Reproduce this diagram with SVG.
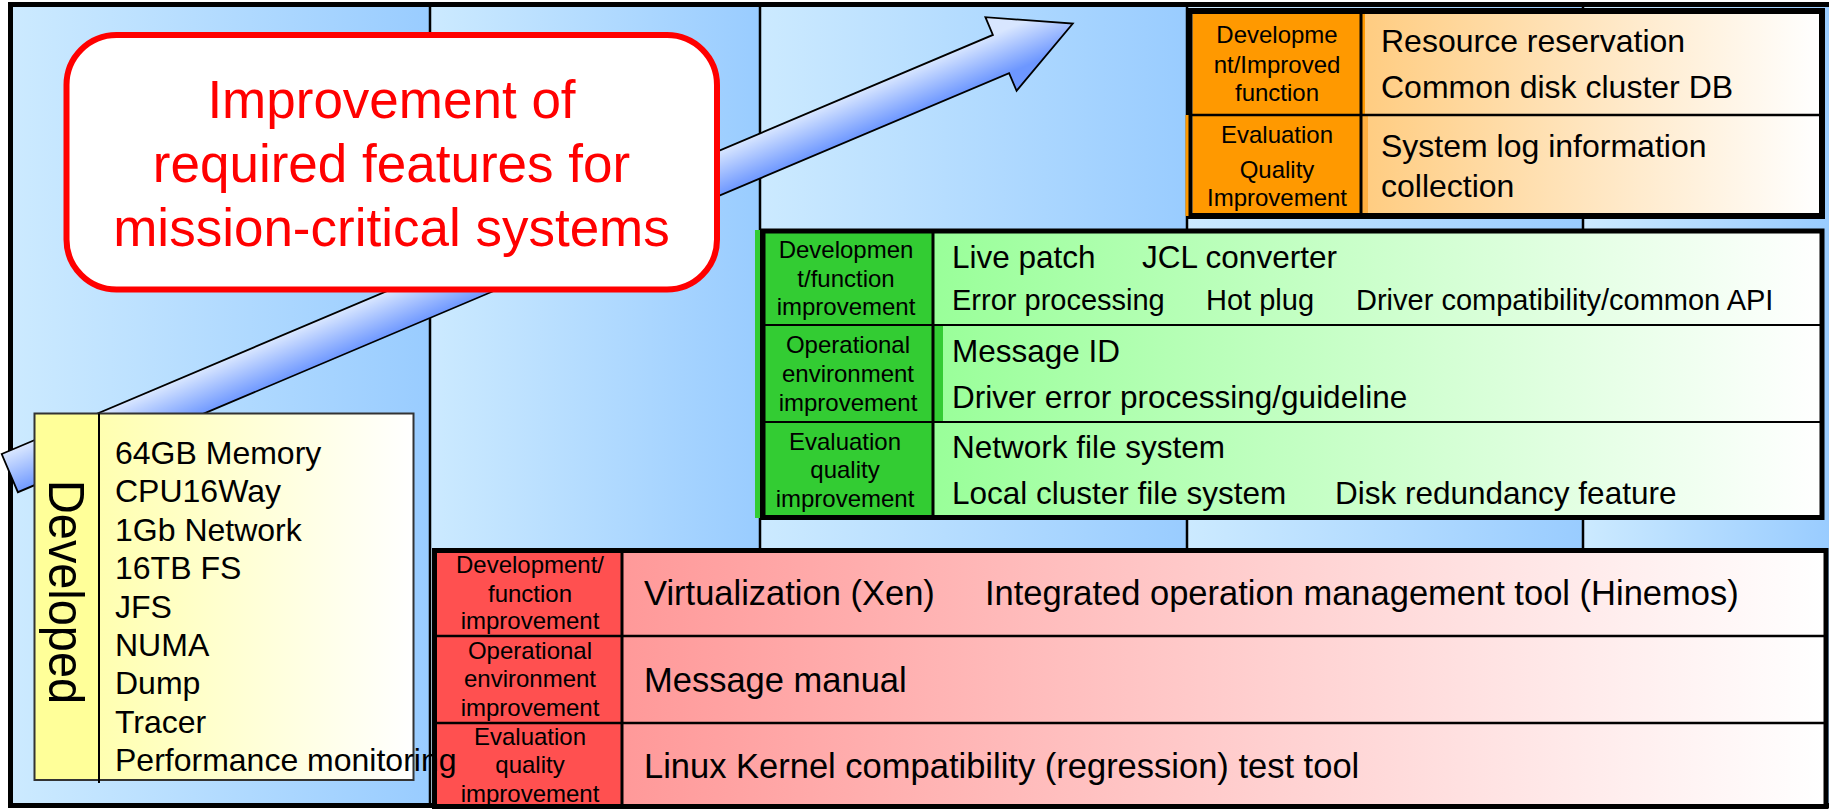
<svg xmlns="http://www.w3.org/2000/svg" width="1829" height="810" viewBox="0 0 1829 810">
<defs>
<style>
.t{font-family:"Liberation Sans",Arial,Helvetica,sans-serif;fill:#000;}
.lb{font-size:24px;text-anchor:middle;}
.or{font-size:32px;}
.gr{font-size:31.5px;}
.gs{font-size:29px;}
.rd{font-size:34.5px;}
.ls{font-size:32px;}
.co{font-size:53px;fill:#ff0000;text-anchor:middle;}
.ln{stroke:#000;fill:none;}
.col{fill:url(#gBlue);}
</style>
<linearGradient id="gBlue" x1="0" y1="0" x2="1" y2="0"><stop offset="0" stop-color="#cceaff"/><stop offset="1" stop-color="#99ccff"/></linearGradient>
<linearGradient id="gArrow" gradientUnits="userSpaceOnUse" x1="992.9" y1="34.9" x2="1009.1" y2="73.1"><stop offset="0" stop-color="#d8e6ff"/><stop offset="1" stop-color="#6d97ff"/></linearGradient>
<linearGradient id="gOrange" x1="0" y1="0" x2="1" y2="0"><stop offset="0" stop-color="#ffcc80"/><stop offset="1" stop-color="#ffffff"/></linearGradient>
<linearGradient id="gGreen" x1="0" y1="0" x2="1" y2="0"><stop offset="0" stop-color="#99ff99"/><stop offset="1" stop-color="#ffffff"/></linearGradient>
<linearGradient id="gRed" x1="0" y1="0" x2="1" y2="0"><stop offset="0" stop-color="#ff9999"/><stop offset="1" stop-color="#ffffff"/></linearGradient>
<linearGradient id="gYel" x1="0" y1="0" x2="1" y2="0"><stop offset="0" stop-color="#ffffb0"/><stop offset="1" stop-color="#ffffff"/></linearGradient>
</defs>

<g id="background">
<rect class="col" x="13" y="7" width="417" height="798"/>
<rect class="col" x="430" y="7" width="330" height="798"/>
<rect class="col" x="760" y="7" width="427" height="798"/>
<rect class="col" x="1187" y="7" width="396" height="798"/>
<rect class="col" x="1583" y="7" width="246" height="798"/>
<line class="ln" x1="430" y1="7" x2="430" y2="805" stroke-width="2.5"/>
<line class="ln" x1="760" y1="7" x2="760" y2="805" stroke-width="2.5"/>
<line class="ln" x1="1187" y1="7" x2="1187" y2="805" stroke-width="2.5"/>
<line class="ln" x1="1583" y1="7" x2="1583" y2="805" stroke-width="2.5"/>
<path class="ln" d="M10.5 808 V4.5 H1829 M10.5 805.5 H1829" stroke-width="5"/>
</g>

<g id="connectors">
<polygon points="1.7,454 992.9,34.9 985.4,17.2 1072.8,23.6 1016.6,90.8 1009.1,73.1 17.9,492.2" fill="url(#gArrow)" stroke="#000" stroke-width="1.8" stroke-linejoin="miter"/>
</g>

<g id="callout">
<rect x="66.5" y="35" width="650.5" height="254.5" rx="50" ry="50" fill="#ffffff" stroke="#ff0000" stroke-width="6"/>
<text class="t co" x="391.5" y="118">Improvement of</text>
<text class="t co" x="391.5" y="182">required features for</text>
<text class="t co" x="391.5" y="246">mission-critical systems</text>
</g>

<g id="orange-table">
<rect x="1192.5" y="14" width="168.5" height="199" fill="#ff9900"/>
<rect x="1361" y="14" width="458" height="199" fill="url(#gOrange)"/>
<rect x="1361" y="14" width="4" height="101" fill="#ff9900"/>
<rect x="1361" y="116" width="7" height="97" fill="#ffb040"/>
<line class="ln" x1="1189.5" y1="115" x2="1822" y2="115" stroke-width="2.5"/>
<line class="ln" x1="1361" y1="11" x2="1361" y2="216" stroke-width="3"/>
<rect x="1189.5" y="11" width="632.5" height="205" fill="none" stroke="#000" stroke-width="6"/>
<rect x="1185.5" y="115" width="3" height="101" fill="#ff9900"/>
<text class="t lb" x="1277" y="43">Developme</text>
<text class="t lb" x="1277" y="73">nt/Improved</text>
<text class="t lb" x="1277" y="101">function</text>
<text class="t lb" x="1277" y="143">Evaluation</text>
<text class="t lb" x="1277" y="178">Quality</text>
<text class="t lb" x="1277" y="206">Improvement</text>
<text class="t or" x="1381" y="52">Resource reservation</text>
<text class="t or" x="1381" y="98">Common disk cluster DB</text>
<text class="t or" x="1381" y="157">System log information</text>
<text class="t or" x="1381" y="197">collection</text>
</g>

<g id="green-table">
<rect x="765" y="233" width="168" height="282" fill="#33cc33"/>
<rect x="933" y="233" width="887" height="282" fill="url(#gGreen)"/>
<rect x="933" y="326" width="10" height="95" fill="#33cc33"/>
<line class="ln" x1="763" y1="325" x2="1822" y2="325" stroke-width="2"/>
<line class="ln" x1="763" y1="422" x2="1822" y2="422" stroke-width="2"/>
<line class="ln" x1="933" y1="231" x2="933" y2="517" stroke-width="3"/>
<rect x="763" y="231" width="1059" height="286.5" fill="none" stroke="#000" stroke-width="5"/>
<rect x="755" y="230" width="5" height="288" fill="#33cc33"/>
<text class="t lb" x="846" y="258">Developmen</text>
<text class="t lb" x="846" y="287">t/function</text>
<text class="t lb" x="846" y="315">improvement</text>
<text class="t lb" x="848" y="353">Operational</text>
<text class="t lb" x="848" y="382">environment</text>
<text class="t lb" x="848" y="411">improvement</text>
<text class="t lb" x="845" y="450">Evaluation</text>
<text class="t lb" x="845" y="478">quality</text>
<text class="t lb" x="845" y="507">improvement</text>
<text class="t gr" x="952" y="268">Live patch</text>
<text class="t gr" x="1142" y="268">JCL converter</text>
<text class="t gs" x="952" y="310">Error processing</text>
<text class="t gs" x="1206" y="310">Hot plug</text>
<text class="t gs" x="1356" y="310">Driver compatibility/common API</text>
<text class="t gr" x="952" y="362">Message ID</text>
<text class="t gr" x="952" y="408">Driver error processing/guideline</text>
<text class="t gr" x="952" y="458">Network file system</text>
<text class="t gr" x="952" y="504">Local cluster file system</text>
<text class="t gr" x="1335" y="504">Disk redundancy feature</text>
</g>

<g id="red-table">
<rect x="437" y="553" width="185" height="252" fill="#ff5050"/>
<rect x="622" y="553" width="1202" height="252" fill="url(#gRed)"/>
<line class="ln" x1="434.5" y1="636" x2="1826" y2="636" stroke-width="2.5"/>
<line class="ln" x1="434.5" y1="723" x2="1826" y2="723" stroke-width="2.5"/>
<line class="ln" x1="622" y1="550.5" x2="622" y2="806" stroke-width="3"/>
<rect x="434.5" y="550.5" width="1391.5" height="256" fill="none" stroke="#000" stroke-width="5"/>
<text class="t lb" x="530" y="573">Development/</text>
<text class="t lb" x="530" y="602">function</text>
<text class="t lb" x="530" y="629">improvement</text>
<text class="t lb" x="530" y="659">Operational</text>
<text class="t lb" x="530" y="687">environment</text>
<text class="t lb" x="530" y="716">improvement</text>
<text class="t lb" x="530" y="745">Evaluation</text>
<text class="t lb" x="530" y="773">quality</text>
<text class="t lb" x="530" y="802">improvement</text>
<text class="t rd" x="644" y="605">Virtualization (Xen)</text>
<text class="t rd" x="985" y="605">Integrated operation management tool (Hinemos)</text>
<text class="t rd" x="644" y="692">Message manual</text>
<text class="t rd" x="644" y="778">Linux Kernel compatibility (regression) test tool</text>
</g>

<g id="developed">
<rect x="34.5" y="413.5" width="64.5" height="366.5" fill="#ffff99"/>
<rect x="99" y="413.5" width="314.5" height="366.5" fill="url(#gYel)"/>
<rect x="34.5" y="413.5" width="379" height="366.5" fill="none" stroke="#333" stroke-width="2"/>
<line class="ln" x1="99" y1="413.5" x2="99" y2="783" stroke-width="2"/>
<text class="t" transform="translate(49,592) rotate(90)" text-anchor="middle" font-size="50" textLength="224" lengthAdjust="spacingAndGlyphs">Developed</text>
<text class="t ls" x="115" y="464">64GB Memory</text>
<text class="t ls" x="115" y="502.4">CPU16Way</text>
<text class="t ls" x="115" y="540.8">1Gb Network</text>
<text class="t ls" x="115" y="579.2">16TB FS</text>
<text class="t ls" x="115" y="617.6">JFS</text>
<text class="t ls" x="115" y="656">NUMA</text>
<text class="t ls" x="115" y="694.4">Dump</text>
<text class="t ls" x="115" y="732.8">Tracer</text>
<text class="t ls" x="115" y="771.2">Performance monitoring</text>
</g>
</svg>
